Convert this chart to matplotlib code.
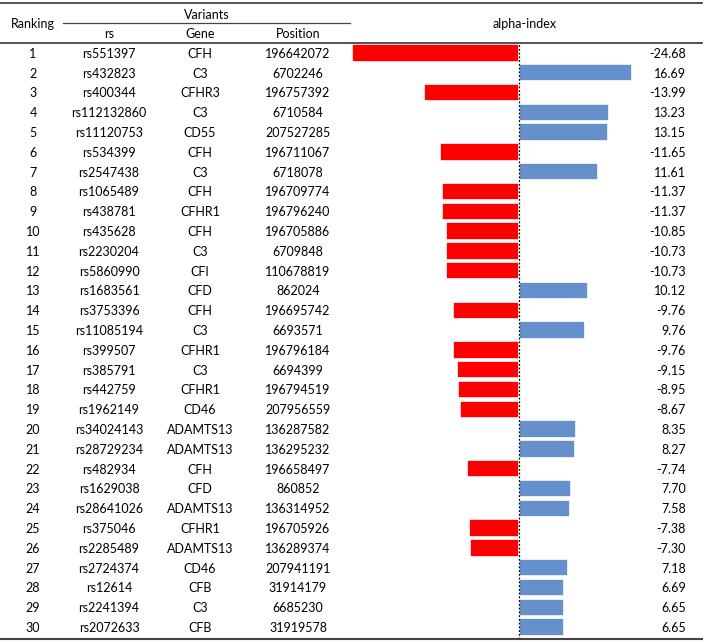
import numpy as np
import matplotlib.pyplot as plt

ranking = list(range(1, 31))
rs_ids = ["rs551397", "rs432823", "rs400344", "rs112132860", "rs11120753", "rs534399",
          "rs2547438", "rs1065489", "rs438781", "rs435628", "rs2230204", "rs5860990",
          "rs1683561", "rs3753396", "rs11085194", "rs399507", "rs385791", "rs442759",
          "rs1962149", "rs34024143", "rs28729234", "rs482934", "rs1629038", "rs28641026",
          "rs375046", "rs2285489", "rs2724374", "rs12614", "rs2241394", "rs2072633"]
genes = ["CFH", "C3", "CFHR3", "C3", "CD55", "CFH", "C3", "CFH", "CFHR1", "CFH", "C3", "CFI",
         "CFD", "CFH", "C3", "CFHR1", "C3", "CFHR1", "CD46", "ADAMTS13", "ADAMTS13", "CFH",
         "CFD", "ADAMTS13", "CFHR1", "ADAMTS13", "CD46", "CFB", "C3", "CFB"]
positions = ["196642072", "6702246", "196757392", "6710584", "207527285", "196711067",
             "6718078", "196709774", "196796240", "196705886", "6709848", "110678819",
             "862024", "196695742", "6693571", "196796184", "6694399", "196794519",
             "207956559", "136287582", "136295232", "196658497", "860852", "136314952",
             "196705926", "136289374", "207941191", "31914179", "6685230", "31919578"]
alpha = [-24.68, 16.69, -13.99, 13.23, 13.15, -11.65, 11.61, -11.37, -11.37, -10.85,
         -10.73, -10.73, 10.12, -9.76, 9.76, -9.76, -9.15, -8.95, -8.67, 8.35,
         8.27, -7.74, 7.70, 7.58, -7.38, -7.30, 7.18, 6.69, 6.65, 6.65]

W, H = 709, 642
plt.rcParams['font.family'] = ['Lato', 'DejaVu Sans']
fs = 9
fig = plt.figure(figsize=(W / 100, H / 100), dpi=100)

def fx(px):
    return px / W

def fy(py):
    return 1 - py / H

# table body axes (x in pixels, y in row index)
top, bot = 43, 639
ylim = (30.5 + (bot - top - 30 * 19.8) / 19.8, 0.5)
ax = fig.add_axes([0, fy(bot), 1, (bot - top) / H])
ax.set_xlim(0, W)
ax.set_ylim(*ylim)
ax.axis('off')

for i, r in enumerate(ranking):
    ax.text(33, r + 0.05, str(r), ha='center', va='center', fontsize=fs)
    ax.text(109, r + 0.05, rs_ids[i], ha='center', va='center', fontsize=fs)
    ax.text(200, r + 0.05, genes[i], ha='center', va='center', fontsize=fs)
    ax.text(298, r + 0.05, positions[i], ha='center', va='center', fontsize=fs)
    ax.text(686, r + 0.05, "%.2f" % alpha[i], ha='right', va='center', fontsize=fs)

# bars
x0, x1, zero, scale = 340, 700, 519, 6.77
axb = fig.add_axes([fx(x0), fy(bot), (x1 - x0) / W, (bot - top) / H])
colors = ['#FF0000' if a < 0 else '#6590CB' for a in alpha]
axb.barh(ranking, alpha, height=0.88, color=colors, edgecolor='white', linewidth=1.2)
axb.set_xlim(-(zero - x0) / scale, (x1 - zero) / scale)
axb.set_ylim(*ylim)
axb.axvline(0, color='black', linestyle=(0, (1.5, 1.5)), linewidth=0.9)
axb.axis('off')

# header
fig.text(fx(33), fy(24), "Ranking", ha='center', va='center', fontsize=fs)
fig.text(fx(207), fy(15), "Variants", ha='center', va='center', fontsize=fs)
fig.text(fx(109), fy(34), "rs", ha='center', va='center', fontsize=fs)
fig.text(fx(200), fy(34), "Gene", ha='center', va='center', fontsize=fs)
fig.text(fx(298), fy(34), "Position", ha='center', va='center', fontsize=fs)
fig.text(fx(525), fy(24), "alpha-index", ha='center', va='center', fontsize=fs)

lc = '#444444'
fig.add_artist(plt.Line2D([0, fx(702)], [fy(3), fy(3)], color=lc, linewidth=1.3))
fig.add_artist(plt.Line2D([fx(63), fx(350)], [fy(23), fy(23)], color=lc, linewidth=0.9))
fig.add_artist(plt.Line2D([0, fx(702)], [fy(43), fy(43)], color=lc, linewidth=1.3))
fig.add_artist(plt.Line2D([0, fx(702)], [fy(639), fy(639)], color=lc, linewidth=1.5))

fig.savefig("out.png", dpi=100)
